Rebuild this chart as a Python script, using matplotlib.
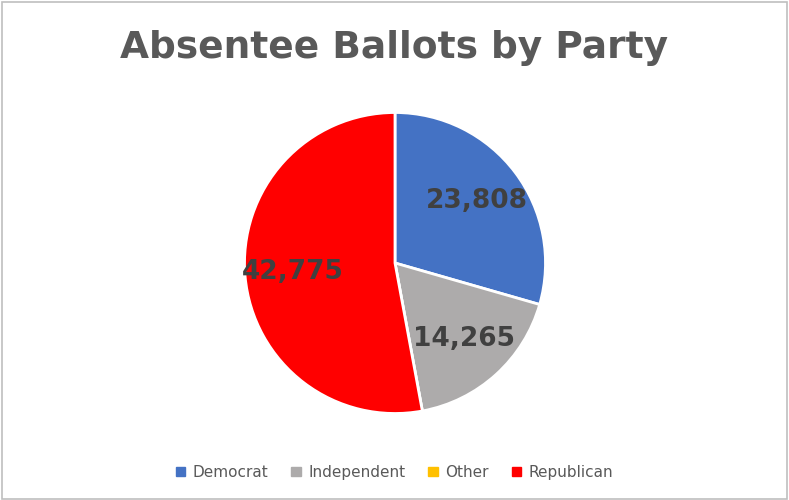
import matplotlib
matplotlib.use("Agg")
import matplotlib.pyplot as plt
from matplotlib.patches import Rectangle

parties = ["Democrat", "Independent", "Other", "Republican"]
ballots = [23808, 14265, 0, 42775]
colors = ["#4472C4", "#ADABAB", "#FFC000", "#FF0000"]

fig = plt.figure(figsize=(7.89, 5.0), dpi=100)
fig.patches.append(Rectangle((0.002, 0.003), 0.996, 0.994, transform=fig.transFigure,
                             fill=False, edgecolor="#BFBFBF", lw=1.2))
fig.text(0.5, 0.905, "Absentee Ballots by Party", ha="center", va="center",
         fontsize=27, fontweight="heavy", color="#595959", family="DejaVu Sans")

ax = fig.add_axes([(395 - 152) / 789, (500 - 415) / 500, 304 / 789, 304 / 500])
total = sum(ballots)
wedges, texts, autotexts = ax.pie(
    ballots, colors=colors, startangle=90, counterclock=False,
    wedgeprops=dict(edgecolor="white", linewidth=2),
    autopct=lambda p: f"{round(p * total / 100):,}" if p > 0 else "",
    pctdistance=0.68, textprops=dict(fontsize=19, fontweight="bold",
                                     color="#404040", family="DejaVu Sans"))
ax.set_xlim(-1.01, 1.01)
ax.set_ylim(-1.01, 1.01)
ax.set_aspect("equal")

handles = [Rectangle((0, 0), 1, 1, color=c) for c in colors]
fig.legend(handles, parties, loc="center", bbox_to_anchor=(0.5, 0.055), ncol=4,
           frameon=False, fontsize=11, handlelength=0.6, handleheight=0.6,
           columnspacing=1.5, handletextpad=0.5, labelcolor="#595959")
fig.savefig("out.png", dpi=100)
